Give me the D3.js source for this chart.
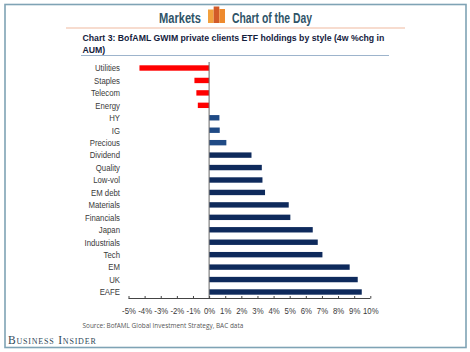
<!DOCTYPE html>
<html>
<head>
<meta charset="utf-8">
<script src="https://cdn.jsdelivr.net/npm/d3@7"></script>
<style>
  html, body { margin: 0; padding: 0; background: #fff; }
  svg { display: block; }
</style>
</head>
<body>
<svg id="chart" width="470" height="352"></svg>
<script>
// Values, % change in AUM over 4 weeks
const categories = ["Utilities", "Staples", "Telecom", "Energy", "HY", "IG", "Precious", "Dividend",
  "Quality", "Low-vol", "EM debt", "Materials", "Financials", "Japan", "Industrials", "Tech", "EM", "UK", "EAFE"];
const values = [-4.32, -0.91, -0.79, -0.7, 0.64, 0.66, 1.07, 2.63,
  3.27, 3.31, 3.47, 4.94, 5.04, 6.43, 6.74, 7.03, 8.72, 9.22, 9.47];
const tickValues = [-5, -4, -3, -2, -1, 0, 1, 2, 3, 4, 5, 6, 7, 8, 9, 10];
const logoBars = [13.5, 16.5, 14];

const svg = d3.select("#chart");
const sans = "'Liberation Sans', Arial, sans-serif";
const humanist = "'Open Sans', sans-serif";
const labelSqueeze = 0.82; // original labels are Arial Narrow, which is not installed

// Outer frame
svg.append("rect")
  .attr("x", 5).attr("y", 4.5).attr("width", 461).attr("height", 343)
  .attr("fill", "#fff").attr("stroke", "#7fa3b5").attr("stroke-width", 1.6);

// Header
const headerColor = "#2f5468";
svg.append("text").attr("x", 159).attr("y", 22.5)
  .attr("textLength", 42).attr("lengthAdjust", "spacingAndGlyphs")
  .attr("fill", headerColor)
  .style("font", `700 15px ${sans}`).text("Markets");
svg.append("text").attr("x", 232).attr("y", 22.5)
  .attr("textLength", 80).attr("lengthAdjust", "spacingAndGlyphs")
  .attr("fill", headerColor)
  .style("font", `700 15px ${sans}`).text("Chart of the Day");

const logoX = d3.scaleBand().domain(d3.range(logoBars.length)).range([208, 225]);
svg.append("g").selectAll("rect").data(logoBars).join("rect")
  .attr("x", (d, i) => logoX(i))
  .attr("y", d => 23 - d)
  .attr("width", logoX.bandwidth())
  .attr("height", d => d)
  .attr("fill", (d, i) => ["#f2a03d", "#d25a28", "#ee8a2e"][i]);

svg.append("rect").attr("x", 66).attr("y", 27).attr("width", 339).attr("height", 2).attr("fill", "#f7dccf");

// Chart title, squeezed so that the first line runs to the same width as the original
const titleLines = ["Chart 3: BofAML GWIM private clients ETF holdings by style (4w %chg in", "AUM)"];
const titles = svg.append("g").selectAll("text").data(titleLines).join("text")
  .attr("fill", "#14213d")
  .style("font", `700 9.8px ${sans}`)
  .text(d => d);
const titleSqueeze = 302 / titles.node().getComputedTextLength();
titles.attr("transform", (d, i) => `translate(82.5,${41 + i * 12}) scale(${titleSqueeze},1)`);
svg.append("line").attr("x1", 81).attr("x2", 389).attr("y1", 55.5).attr("y2", 55.5)
  .attr("stroke", "#9db4cc").attr("stroke-width", 1);

// Scales
const x = d3.scaleLinear().domain([-5, 10]).range([128.5, 370.3]);
const y = d3.scalePoint().domain(categories).range([68, 292]);
const barHeight = 5.4;

// Bars
svg.append("g").selectAll("rect").data(values).join("rect")
  .attr("x", d => Math.min(x(d), x(0)))
  .attr("y", (d, i) => y(categories[i]) - barHeight / 2)
  .attr("width", d => Math.abs(x(d) - x(0)))
  .attr("height", barHeight)
  .attr("fill", d => d < 0 ? "#ff0000" : d < 2 ? "#1f4a85" : "#0e2a5c");

// Zero line
svg.append("line")
  .attr("x1", x(0)).attr("x2", x(0)).attr("y1", 62).attr("y2", 298.5)
  .attr("stroke", "#666").attr("stroke-width", 1);

// Category labels
svg.append("g").selectAll("text").data(categories).join("text")
  .attr("transform", d => `translate(120,${y(d) + 3.3}) scale(${labelSqueeze},1)`)
  .attr("text-anchor", "end")
  .attr("fill", "#3a3a3a")
  .style("font", `9.5px ${sans}`)
  .text(d => d);

// Bottom axis
const axis = d3.axisBottom(x)
  .tickValues(tickValues)
  .tickSize(-2.5)
  .tickPadding(8.5)
  .tickFormat(d => d + "%");
const gAxis = svg.append("g").attr("transform", "translate(0,298.5)").call(axis);
gAxis.select(".domain").attr("stroke", "#444").attr("d", `M${x(-5)},0H${x(10)}`);
gAxis.selectAll(".tick line").attr("stroke", "#444");
gAxis.selectAll(".tick text")
  .attr("transform", `scale(${labelSqueeze},1)`)
  .attr("fill", "#3a3a3a")
  .style("font", `9.5px ${sans}`);

// Source
svg.append("text")
  .attr("transform", "translate(82.5,327.5) scale(0.92,1)")
  .attr("fill", "#555")
  .style("font", `7px ${humanist}`)
  .text("Source: BofAML Global Investment Strategy, BAC data");

// Business Insider wordmark
svg.append("text").attr("x", 8).attr("y", 344)
  .attr("fill", "#2f4858")
  .style("font", `11.5px 'Liberation Serif', serif`)
  .style("font-variant", "small-caps")
  .style("letter-spacing", "0.8px")
  .text("Business Insider");
</script>
</body>
</html>
